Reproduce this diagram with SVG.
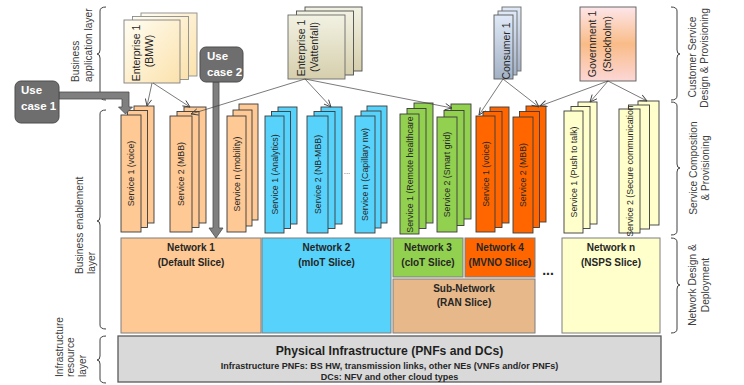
<svg xmlns="http://www.w3.org/2000/svg" width="744" height="385" viewBox="0 0 744 385">
  <defs>
    <style>
      text { font-family: "Liberation Sans", Arial, sans-serif; }
      .side { font-size: 10.2px; fill: #404040; }
      .brace { fill: none; stroke: #404040; stroke-width: 1; }
      .ent { font-size: 10.5px; fill: #262626; text-anchor: middle; }
      .svc rect { stroke: #3a3a3a; stroke-width: 0.9; }
      .svc text { font-size: 8.8px; fill: #262626; text-anchor: middle; }
      .net rect { stroke: #7f7f7f; stroke-width: 1; }
      .net text { font-size: 10px; font-weight: bold; fill: #262626; text-anchor: middle; }
      .peach { fill: #fec994; }
      .sky { fill: #57d3fb; }
      .lime { fill: #92d050; }
      .flame { fill: #ff6600; }
      .cream { fill: #ffffcc; }
      .tan { fill: #e6b88a; }
      .uc rect { fill: #6e6e6e; stroke: #4d4d4d; stroke-width: 1; }
      .uc text { font-size: 11.5px; font-weight: bold; fill: #ffffff; }
      .fat { fill: #7f7f7f; stroke: #4d4d4d; stroke-width: 0.8; }
      .link { fill: none; stroke: #404040; stroke-width: 0.7; marker-end: url(#tip); }
      .dots { font-size: 8px; fill: #595959; text-anchor: middle; }
    </style>
    <marker id="tip" viewBox="0 0 8 8" refX="7.5" refY="4" markerWidth="8" markerHeight="8" markerUnits="userSpaceOnUse" orient="auto">
      <path d="M0.5,0.8 L7.5,4 L0.5,7.2" fill="none" stroke="#404040" stroke-width="0.9"/>
    </marker>
    <linearGradient id="gBmw" x1="0" y1="0" x2="1" y2="1">
      <stop offset="0" stop-color="#fffdf2"/>
      <stop offset="1" stop-color="#fbe2ad"/>
    </linearGradient>
    <linearGradient id="gVat" x1="0" y1="0" x2="0" y2="1">
      <stop offset="0" stop-color="#f2f2e3"/>
      <stop offset="1" stop-color="#d6cfad"/>
    </linearGradient>
    <linearGradient id="gCon" x1="0" y1="0" x2="0" y2="1">
      <stop offset="0" stop-color="#dfe9f7"/>
      <stop offset="1" stop-color="#a3b1c5"/>
    </linearGradient>
    <linearGradient id="gGov" x1="0" y1="0" x2="0" y2="1">
      <stop offset="0" stop-color="#fde6ea"/>
      <stop offset="0.5" stop-color="#f9bc88"/>
      <stop offset="1" stop-color="#fcd7d6"/>
    </linearGradient>
  </defs>

  <rect width="744" height="385" fill="#ffffff"/>

  <!-- layer labels on the left -->
  <g id="layer-labels-left">
    <path class="brace" d="M106,7 Q100,7 100,11 V50 Q100,54 97,54 Q100,54 100,58 V96 Q100,100 106,100"/>
    <text class="side" transform="translate(79,82) rotate(-90)">Business</text>
    <text class="side" transform="translate(92,82) rotate(-90)">application layer</text>
    <path class="brace" d="M106,110 Q100,110 100,114 V217 Q100,221 97,221 Q100,221 100,225 V325 Q100,329 106,329"/>
    <text class="side" transform="translate(83,274) rotate(-90)">Business enablement</text>
    <text class="side" transform="translate(95,274) rotate(-90)">layer</text>
    <path class="brace" d="M106,336 Q100,336 100,340 V356 Q100,360 97,360 Q100,360 100,364 V379 Q100,383 106,383"/>
    <text class="side" transform="translate(62.5,377) rotate(-90)">Infrastructure</text>
    <text class="side" transform="translate(74,377) rotate(-90)">resource</text>
    <text class="side" transform="translate(85.5,377) rotate(-90)">layer</text>
  </g>

  <!-- process labels on the right -->
  <g id="layer-labels-right">
    <path class="brace" d="M671,7 Q677,7 677,11 V50 Q677,54 680,54 Q677,54 677,58 V96 Q677,100 671,100"/>
    <text class="side" text-anchor="middle" transform="translate(696,57) rotate(-90)">Customer Service</text>
    <text class="side" text-anchor="middle" transform="translate(708,58) rotate(-90)">Design &amp; Provisioning</text>
    <path class="brace" d="M671,102 Q677,102 677,106 V164 Q677,168 680,168 Q677,168 677,172 V231 Q677,235 671,235"/>
    <text class="side" text-anchor="middle" transform="translate(697,168) rotate(-90)">Service Composition</text>
    <text class="side" text-anchor="middle" transform="translate(709,168) rotate(-90)">&amp; Provisioning</text>
    <path class="brace" d="M671,238 Q677,238 677,242 V281 Q677,285 680,285 Q677,285 677,289 V329 Q677,333 671,333"/>
    <text class="side" text-anchor="middle" transform="translate(696,285) rotate(-90)">Network Design &amp;</text>
    <text class="side" text-anchor="middle" transform="translate(709,285) rotate(-90)">Deployment</text>
  </g>

  <!-- customers -->
  <g id="enterprise-bmw">
    <rect x="141" y="13" width="56" height="63" fill="url(#gBmw)" stroke="#8c8c8c" stroke-width="0.9"/>
    <rect x="132.5" y="16.5" width="56" height="63" fill="url(#gBmw)" stroke="#8c8c8c" stroke-width="0.9"/>
    <rect x="124" y="20" width="56" height="63" fill="url(#gBmw)" stroke="#7f7f7f" stroke-width="0.9"/>
    <text class="ent" transform="translate(140,53) rotate(-90)">Enterprise 1</text>
    <text class="ent" transform="translate(153,51) rotate(-90)">(BMW)</text>
  </g>
  <g id="enterprise-vattenfall">
    <rect x="305" y="7" width="57" height="64" fill="url(#gVat)" stroke="#4d4d4d" stroke-width="0.9"/>
    <rect x="296.5" y="11" width="57" height="64" fill="url(#gVat)" stroke="#4d4d4d" stroke-width="0.9"/>
    <rect x="288" y="15" width="57" height="64" fill="url(#gVat)" stroke="#6a6a6a" stroke-width="0.9"/>
    <text class="ent" transform="translate(305,48) rotate(-90)">Enterprise 1</text>
    <text class="ent" transform="translate(318,47) rotate(-90)">(Vattenfall)</text>
  </g>
  <g id="consumer">
    <rect x="502" y="7" width="19" height="64" fill="url(#gCon)" stroke="#6a6a6a" stroke-width="0.9"/>
    <rect x="498" y="11" width="19" height="64" fill="url(#gCon)" stroke="#6a6a6a" stroke-width="0.9"/>
    <rect x="494" y="15" width="19" height="64" fill="url(#gCon)" stroke="#595959" stroke-width="0.9"/>
    <text class="ent" transform="translate(510,51) rotate(-90)">Consumer 1</text>
  </g>
  <g id="government">
    <rect x="580" y="7" width="56" height="74" fill="url(#gGov)" stroke="#595959" stroke-width="0.9"/>
    <text class="ent" transform="translate(596,44) rotate(-90)">Government 1</text>
    <text class="ent" transform="translate(611,44) rotate(-90)">(Stockholm)</text>
  </g>

  <!-- service stacks -->
  <g id="svc-default-voice" class="svc">
    <rect class="peach" x="134" y="106" width="20" height="117"/>
    <rect class="peach" x="127.5" y="110.5" width="20" height="117"/>
    <rect class="peach" x="121" y="115" width="20" height="117"/>
    <text transform="translate(134,173.5) rotate(-90)">Service 1 (voice)</text>
  </g>
  <g id="svc-default-mbb" class="svc">
    <rect class="peach" x="184" y="107" width="22" height="116"/>
    <rect class="peach" x="177" y="111.5" width="22" height="116"/>
    <rect class="peach" x="170" y="116" width="22" height="116"/>
    <text transform="translate(184,174) rotate(-90)">Service 2 (MBB)</text>
  </g>
  <g id="svc-default-mobility" class="svc">
    <rect class="peach" x="239" y="104" width="19" height="116"/>
    <rect class="peach" x="233" y="110" width="19" height="116"/>
    <rect class="peach" x="227" y="116" width="19" height="116"/>
    <text transform="translate(239.5,174) rotate(-90)">Service n (mobility)</text>
  </g>
  <text class="dots" x="216" y="174">...</text>
  <g id="svc-miot-analytics" class="svc">
    <rect class="sky" x="278" y="107" width="19" height="117"/>
    <rect class="sky" x="271.5" y="111.5" width="19" height="117"/>
    <rect class="sky" x="265" y="116" width="19" height="117"/>
    <text transform="translate(277.5,174.5) rotate(-90)">Service 1 (Analytics)</text>
  </g>
  <g id="svc-miot-nbmbb" class="svc">
    <rect class="sky" x="321" y="107" width="21" height="117"/>
    <rect class="sky" x="314" y="111.5" width="21" height="117"/>
    <rect class="sky" x="307" y="116" width="21" height="117"/>
    <text transform="translate(320.5,174.5) rotate(-90)">Service 2 (NB-MBB)</text>
  </g>
  <text class="dots" x="347" y="174">...</text>
  <g id="svc-miot-capillary" class="svc">
    <rect class="sky" x="367" y="106" width="20" height="117"/>
    <rect class="sky" x="361" y="111" width="20" height="117"/>
    <rect class="sky" x="355" y="116" width="20" height="117"/>
    <text transform="translate(368,174.5) rotate(-90)">Service n (Capillary nw)</text>
  </g>
  <g id="svc-ciot-healthcare" class="svc">
    <rect class="lime" x="414" y="103" width="19" height="120"/>
    <rect class="lime" x="407" y="108.5" width="19" height="120"/>
    <rect class="lime" x="400" y="114" width="19" height="120"/>
    <text transform="translate(412.5,174.5) rotate(-90)">Service 1 (Remote healthcare</text>
  </g>
  <g id="svc-ciot-smartgrid" class="svc">
    <rect class="lime" x="451" y="104" width="20" height="115"/>
    <rect class="lime" x="444" y="110.5" width="20" height="115"/>
    <rect class="lime" x="437" y="117" width="20" height="115"/>
    <text transform="translate(450,174.5) rotate(-90)">Service 2 (Smart grid)</text>
  </g>
  <g id="svc-mvno-voice" class="svc">
    <rect class="flame" x="490" y="107" width="19" height="116"/>
    <rect class="flame" x="483" y="111.5" width="19" height="116"/>
    <rect class="flame" x="476" y="116" width="19" height="116"/>
    <text transform="translate(488.5,174) rotate(-90)">Service 1 (voice)</text>
  </g>
  <g id="svc-mvno-mbb" class="svc">
    <rect class="flame" x="526" y="106" width="20" height="116"/>
    <rect class="flame" x="519.5" y="111.5" width="20" height="116"/>
    <rect class="flame" x="513" y="117" width="20" height="116"/>
    <text transform="translate(526,175) rotate(-90)">Service 2 (MBB)</text>
  </g>
  <g id="svc-nsps-ptt" class="svc">
    <rect class="cream" x="578" y="102" width="19" height="122"/>
    <rect class="cream" x="571" y="106.5" width="19" height="122"/>
    <rect class="cream" x="564" y="111" width="19" height="122"/>
    <text transform="translate(576.5,172) rotate(-90)">Service 1 (Push to talk)</text>
  </g>
  <g id="svc-nsps-secure" class="svc">
    <rect class="cream" x="638" y="101" width="21" height="124"/>
    <rect class="cream" x="628.5" y="105" width="21" height="124"/>
    <rect class="cream" x="619" y="109" width="21" height="124"/>
    <text transform="translate(632.5,171) rotate(-90)">Service 2 (Secure communication</text>
  </g>

  <!-- network slices -->
  <g id="net-1" class="net">
    <rect class="peach" x="121" y="238" width="140" height="95"/>
    <text x="191" y="250.5">Network 1</text>
    <text x="191" y="265.5">(Default Slice)</text>
  </g>
  <g id="net-2" class="net">
    <rect class="sky" x="262" y="238" width="129" height="95"/>
    <text x="326.5" y="250.5">Network 2</text>
    <text x="326.5" y="265.5">(mIoT Slice)</text>
  </g>
  <g id="net-3" class="net">
    <rect class="lime" x="393" y="238" width="70" height="39"/>
    <text x="428" y="250.5">Network 3</text>
    <text x="428" y="265.5">(cIoT Slice)</text>
  </g>
  <g id="net-4" class="net">
    <rect class="flame" x="465" y="238" width="70" height="39"/>
    <text x="500" y="250.5">Network 4</text>
    <text x="500" y="265.5">(MVNO Slice)</text>
  </g>
  <g id="net-ran" class="net">
    <rect class="tan" x="393" y="279" width="142" height="54"/>
    <text x="464" y="291.5">Sub-Network</text>
    <text x="464" y="305.5">(RAN Slice)</text>
  </g>
  <text x="548" y="275" font-size="14" font-weight="bold" fill="#262626" text-anchor="middle">...</text>
  <g id="net-n" class="net">
    <rect class="cream" x="562" y="238" width="98" height="95"/>
    <text x="611" y="250.5">Network n</text>
    <text x="611" y="265.5">(NSPS Slice)</text>
  </g>

  <!-- physical infrastructure -->
  <g id="infrastructure">
    <rect x="118" y="336" width="543" height="46" fill="#d9d9d9" stroke="#595959" stroke-width="1.3"/>
    <text x="389.5" y="354.5" font-size="12.2" font-weight="bold" fill="#1f1f1f" text-anchor="middle">Physical Infrastructure (PNFs and DCs)</text>
    <text x="389.5" y="368.5" font-size="9" font-weight="bold" fill="#262626" text-anchor="middle">Infrastructure PNFs: BS HW, transmission links, other NEs (VNFs and/or PNFs)</text>
    <text x="389.5" y="380" font-size="9" font-weight="bold" fill="#262626" text-anchor="middle">DCs: NFV and other cloud types</text>
  </g>

  <!-- use cases -->
  <g id="use-case-1" class="uc">
    <path class="fat" d="M59,92 H129 V107 H132.5 L125.5,114 L118.5,107 H122 V99 H59 Z"/>
    <rect x="15" y="81" width="44" height="42" rx="6"/>
    <text x="21" y="94">Use</text>
    <text x="21" y="110">case 1</text>
  </g>
  <g id="use-case-2" class="uc">
    <path class="fat" d="M213,82 V228 H209 L216,238 L223,228 H219 V82 Z"/>
    <rect x="200" y="47" width="43" height="35" rx="6"/>
    <text x="207" y="60">Use</text>
    <text x="207" y="76">case 2</text>
  </g>

  <!-- customer to service links -->
  <g id="connectors">
    <line class="link" x1="152" y1="83" x2="147" y2="106"/>
    <line class="link" x1="153" y1="83" x2="190" y2="107"/>
    <line class="link" x1="305" y1="79" x2="191" y2="114"/>
    <line class="link" x1="305" y1="79" x2="331" y2="107"/>
    <line class="link" x1="305" y1="79" x2="452" y2="108"/>
    <line class="link" x1="503" y1="79" x2="479" y2="115"/>
    <line class="link" x1="503" y1="79" x2="539" y2="107"/>
    <line class="link" x1="608" y1="81" x2="540" y2="106"/>
    <line class="link" x1="608" y1="81" x2="590" y2="102"/>
    <line class="link" x1="608" y1="81" x2="647" y2="101"/>
  </g>
</svg>
